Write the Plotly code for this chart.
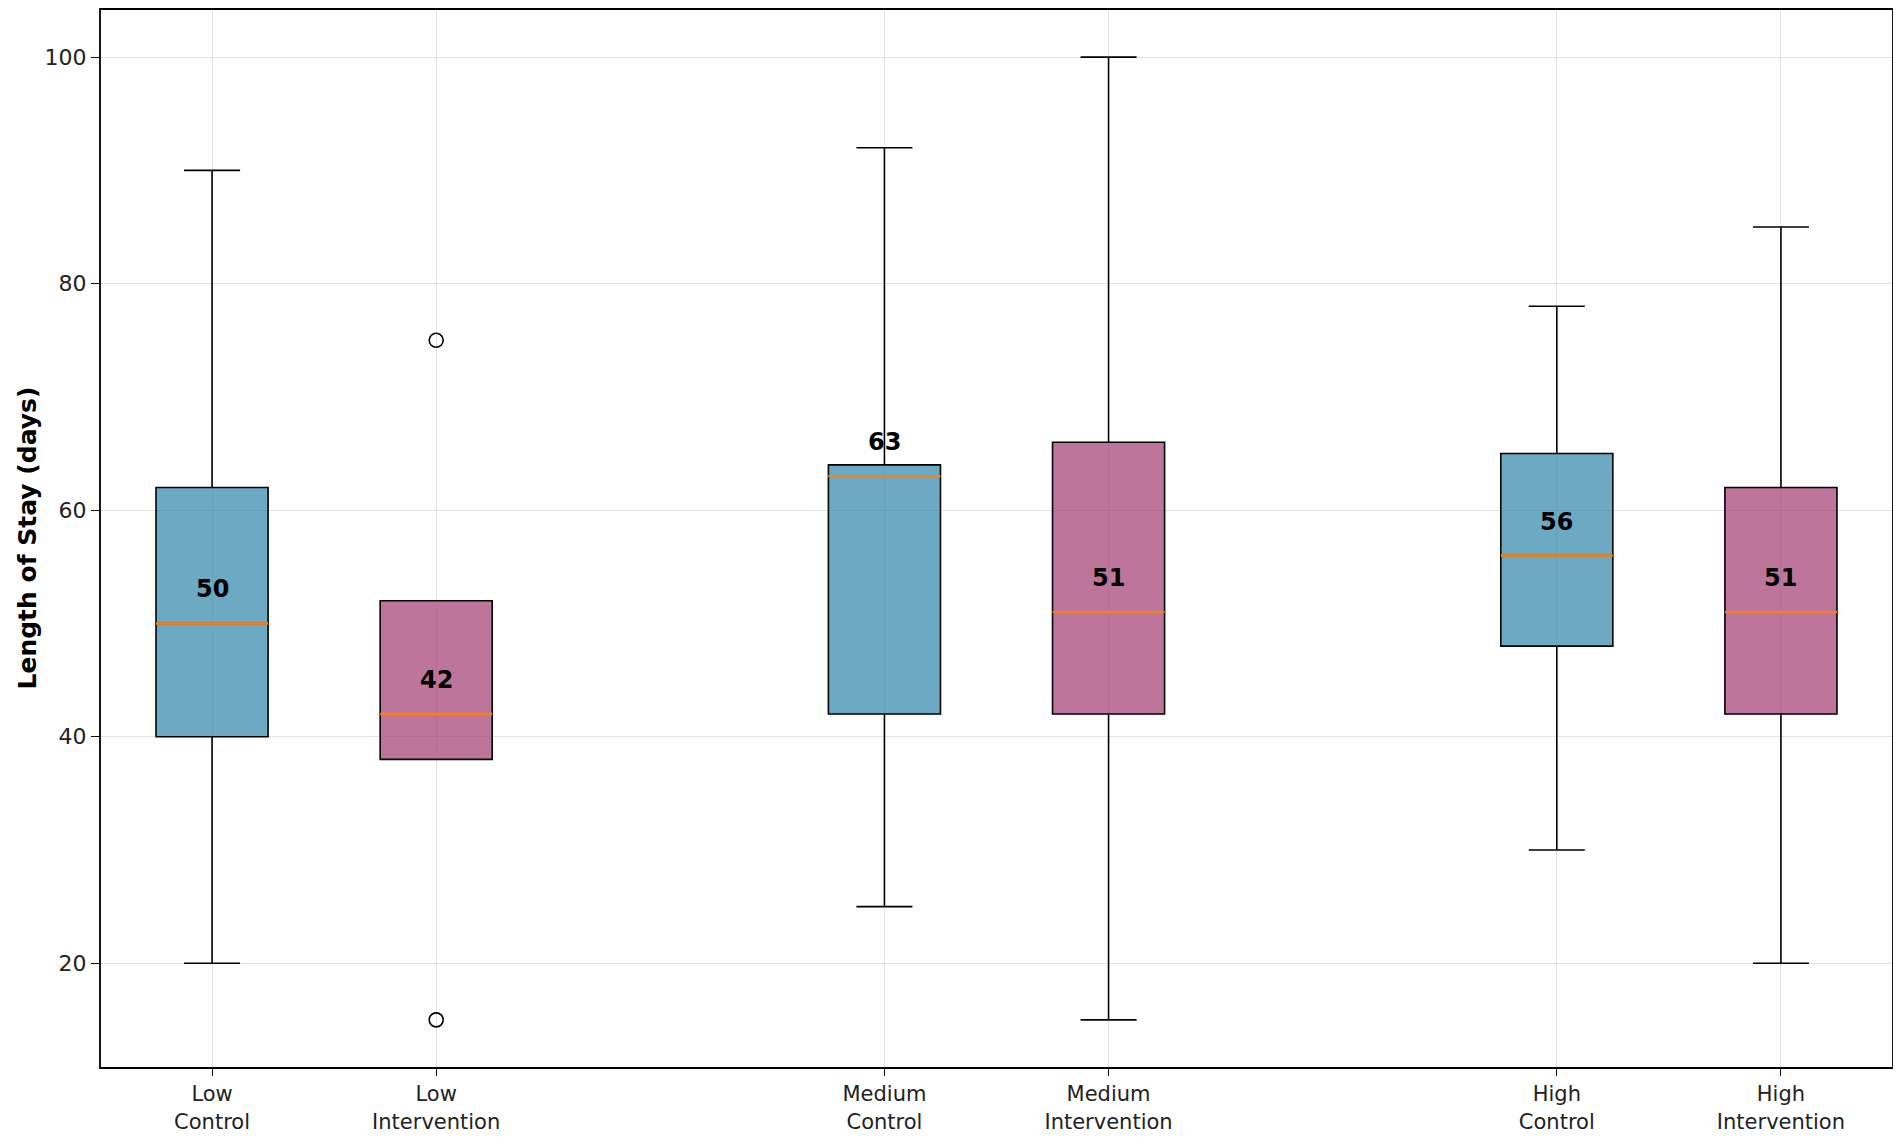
import plotly.graph_objects as go

# ---- data ----
categories = ["Low<br>Control", "Low<br>Intervention", "Medium<br>Control",
              "Medium<br>Intervention", "High<br>Control", "High<br>Intervention"]
positions = [1, 2, 4, 5, 7, 8]
groups = ["Control", "Intervention", "Control", "Intervention", "Control", "Intervention"]
q1 = [40, 38, 42, 42, 48, 42]
median = [50, 42, 63, 51, 56, 51]
q3 = [62, 52, 64, 66, 65, 62]
lower_whisker = [20, 38, 25, 15, 30, 20]
upper_whisker = [90, 52, 92, 100, 78, 85]
outlier_x = [2, 2]
outlier_y = [75, 15]
y_ticks = [20, 40, 60, 80, 100]
y_title = "Length of Stay (days)"

# ---- styles ----
FILL = {"Control": "rgba(46,134,171,0.7)", "Intervention": "rgba(162,59,114,0.7)"}
BOX_W = 0.5
FONT = "DejaVu Sans"

fig = go.Figure()

for i in range(len(positions)):
    fig.add_trace(go.Box(
        x=[positions[i]],
        q1=[q1[i]], median=[median[i]], q3=[q3[i]],
        lowerfence=[lower_whisker[i]], upperfence=[upper_whisker[i]],
        width=BOX_W, whiskerwidth=0.5,
        fillcolor=FILL[groups[i]],
        line=dict(color="black", width=1.6),
        boxpoints=False, showlegend=False, hoverinfo="skip",
    ))

# orange median lines
mx, my = [], []
for p, m in zip(positions, median):
    mx += [p - BOX_W / 2, p + BOX_W / 2, None]
    my += [m, m, None]
fig.add_trace(go.Scatter(x=mx, y=my, mode="lines",
                         line=dict(color="#ff7f0e", width=2.4),
                         showlegend=False, hoverinfo="skip"))

# outliers
fig.add_trace(go.Scatter(x=outlier_x, y=outlier_y, mode="markers",
                         marker=dict(symbol="circle-open", size=14,
                                     color="black", line=dict(width=1.6)),
                         showlegend=False, hoverinfo="skip"))

# median labels
for p, m in zip(positions, median):
    fig.add_annotation(x=p, y=m + 3, text=f"<b>{m}</b>", showarrow=False,
                       xanchor="center", yanchor="middle",
                       font=dict(family=FONT, size=24, color="black"))

# y-axis title
fig.add_annotation(x=0, y=0.5, xref="paper", yref="paper", xshift=-73,
                   text=f"<b>{y_title}</b>", textangle=-90, showarrow=False,
                   xanchor="center", yanchor="middle",
                   font=dict(family=FONT, size=25, color="black"))

# plot frame
fig.add_shape(type="rect", xref="paper", yref="paper", x0=0, x1=1, y0=0, y1=1,
              line=dict(color="black", width=1.8), layer="above")

fig.update_layout(
    width=1893, height=1129,
    margin=dict(l=92, r=8, t=1, b=69),
    plot_bgcolor="white", paper_bgcolor="white",
    font=dict(family=FONT, color="#222222"),
)
fig.update_xaxes(
    range=[0.5, 8.5], tickmode="array", tickvals=positions, ticktext=categories,
    tickfont=dict(family=FONT, size=21, color="#222222"),
    ticks="outside", ticklen=7, tickwidth=1.3, tickcolor="black",
    showgrid=True, gridcolor="rgba(176,176,176,0.35)", gridwidth=1,
    showline=False, zeroline=False, automargin=False,
)
fig.update_yaxes(
    range=[10.75, 104.25], tickmode="array", tickvals=y_ticks,
    tickfont=dict(family=FONT, size=22, color="#222222"),
    ticks="outside", ticklen=8, tickwidth=1.3, tickcolor="black",
    showgrid=True, gridcolor="rgba(176,176,176,0.35)", gridwidth=1,
    showline=False, zeroline=False, automargin=False,
)

fig.write_html("out.html")
